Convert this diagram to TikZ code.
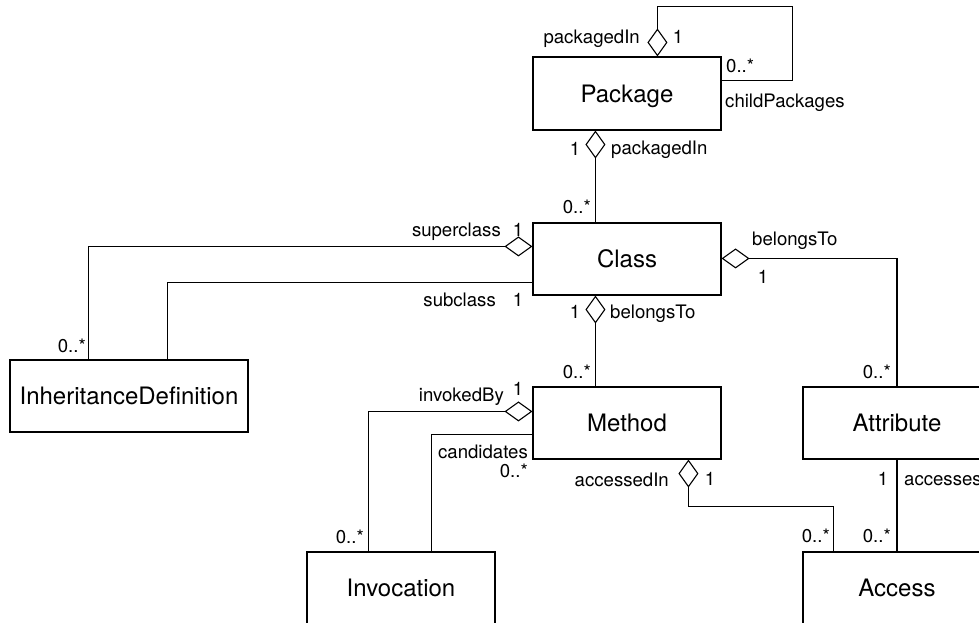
\documentclass[tikz,border=0pt]{standalone}
\usepackage{fontspec}
\setmainfont{TeX Gyre Heros}
\usetikzlibrary{arrows.meta,calc}
\tikzset{
  cls/.style={draw, line width=1.1pt, minimum width=188pt, minimum height=72pt, inner sep=0pt,
    font=\fontsize{24}{28}\selectfont, text height=17.2pt, text depth=0pt},
  conn/.style={line width=1.1pt},
  agg/.style={conn, {Diamond[open,length=28pt,width=20pt]}-},
  lbl/.style={font=\fontsize{18.6}{22}\selectfont, inner sep=0pt}
}
\begin{document}
\begin{tikzpicture}[x=1pt,y=-1pt]
\useasboundingbox (0,0) rectangle (979,622);
\clip (0,0) rectangle (979,622);
% classes
\node[cls, minimum height=73pt] (pkg) at (627,93.5) {Package};
\node[cls] (cla) at (627,259) {Class};
\node[cls] (mth) at (627,423) {Method};
\node[cls] (att) at (897,423) {Attribute};
\node[cls, minimum width=238pt] (inh) at (129,396) {InheritanceDefinition};
\node[cls] (inv) at (401,588) {Invocation};
\node[cls] (acc) at (897,588) {Access};
% connectors
\draw[agg] ($(pkg.north west)+(125,0)$) -- ++(0,-50) -| ($(pkg.north east)+(71,24)$) -- ($(pkg.north east)+(0,24)$);
\draw[agg] ($(pkg.south west)+(63,0)$) -- ($(cla.north west)+(63,0)$);
\draw[agg] ($(cla.north west)+(0,24)$) -| ($(inh.north west)+(79,0)$);
\draw[conn] ($(cla.north west)+(0,60)$) -| ($(inh.north west)+(158,0)$);
\draw[agg] ($(cla.north east)+(0,36)$) -| (att.north);
\draw[agg] ($(cla.south west)+(63,0)$) -- ($(mth.north west)+(63,0)$);
\draw[agg] ($(mth.north west)+(0,25)$) -| ($(inv.north west)+(62,0)$);
\draw[conn] ($(mth.north west)+(0,48)$) -| ($(inv.north west)+(125,0)$);
\draw[agg] ($(mth.south west)+(156,0)$) -- ++(0,47) -| ($(acc.north west)+(31,0)$);
\draw[conn] (att.south) -- (acc.north);
% labels
\node[lbl, anchor=base east] (l1) at (640,43) {packagedIn};
\node[lbl, anchor=base] (l2) at (678,43) {1};
\node[lbl, anchor=base west] (l3) at (726,72) {0..*};
\node[lbl, anchor=base west] (l4) at (725,107) {childPackages};
\node[lbl, anchor=base] (l5) at (575,155) {1};
\node[lbl, anchor=base west] (l6) at (611,154) {packagedIn};
\node[lbl, anchor=base east] (l7) at (591,213) {0..*};
\node[lbl, anchor=base east] (l8) at (501,236) {superclass};
\node[lbl, anchor=base] (l9) at (518,236) {1};
\node[lbl, anchor=base east] (l10) at (496,306) {subclass};
\node[lbl, anchor=base] (l11) at (518,306) {1};
\node[lbl, anchor=base east] (l12) at (86,352) {0..*};
\node[lbl, anchor=base west] (l13) at (752,245) {belongsTo};
\node[lbl, anchor=base] (l14) at (763,283) {1};
\node[lbl, anchor=base] (l15) at (575,318) {1};
\node[lbl, anchor=base west] (l16) at (610,318) {belongsTo};
\node[lbl, anchor=base east] (l17) at (591,378) {0..*};
\node[lbl, anchor=base east] (l18) at (891,378) {0..*};
\node[lbl, anchor=base east] (l19) at (504,401) {invokedBy};
\node[lbl, anchor=base] (l20) at (518,395) {1};
\node[lbl, anchor=base east] (l21) at (528,458) {candidates};
\node[lbl, anchor=base east] (l22) at (528,477) {0..*};
\node[lbl, anchor=base east] (l23) at (364,543) {0..*};
\node[lbl, anchor=base east] (l24) at (669,486) {accessedIn};
\node[lbl, anchor=base] (l25) at (710,485) {1};
\node[lbl, anchor=base east] (l26) at (830,542) {0..*};
\node[lbl, anchor=base east] (l27) at (891,542) {0..*};
\node[lbl, anchor=base] (l28) at (883,485) {1};
\node[lbl, anchor=base west] (l29) at (904,485) {accesses};
\end{tikzpicture}
\end{document}
